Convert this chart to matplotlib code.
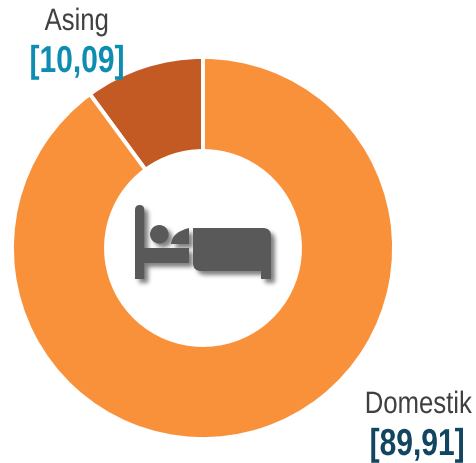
import numpy as np
import matplotlib
matplotlib.use("Agg")
import matplotlib.pyplot as plt
from matplotlib.patches import PathPatch
from matplotlib.path import Path
from matplotlib.patheffects import AbstractPathEffect
from matplotlib.transforms import Affine2D

categories = ["Asing", "Domestik"]
values = [10.09, 89.91]
value_labels = ["[10,09]", "[89,91]"]
slice_colors = ["#C45A23", "#F9913A"]
value_colors = ["#0E8DB3", "#12455F"]

FONT = "Liberation Sans"

W, H = 477, 463
fig = plt.figure(figsize=(W / 100, H / 100), dpi=100, facecolor="white")
ax = fig.add_axes([0, 0, 1, 1])

ax.pie(values, colors=slice_colors, startangle=90, counterclock=True,
       center=(203, H - 248), radius=191,
       wedgeprops=dict(width=94, edgecolor="white", linewidth=2.8), frame=True)
ax.set_xlim(0, W)
ax.set_ylim(0, H)
ax.set_aspect("equal")
ax.axis("off")


def Y(y):
    return H - y


blanket = Path(
    [(193, Y(228)), (263, Y(228)), (271, Y(228)), (271, Y(236)), (271, Y(279)),
     (261, Y(279)), (261, Y(271)), (201, Y(271)), (193, Y(271)), (193, Y(263)),
     (193, Y(228))],
    [Path.MOVETO, Path.LINETO, Path.CURVE3, Path.CURVE3, Path.LINETO,
     Path.LINETO, Path.LINETO, Path.LINETO, Path.CURVE3, Path.CURVE3,
     Path.CLOSEPOLY])
pillow = Path(
    [(189, Y(228)), (189, Y(244)), (171, Y(244)), (172, Y(232)), (189, Y(228))],
    [Path.MOVETO, Path.LINETO, Path.LINETO, Path.CURVE3, Path.CURVE3])
post = Path(
    [(135, Y(210)), (135, Y(205)), (139.7, Y(205)), (144.3, Y(205)), (144.3, Y(210)),
     (144.3, Y(279)), (135, Y(279)), (135, Y(210))],
    [Path.MOVETO, Path.CURVE3, Path.CURVE3, Path.CURVE3, Path.CURVE3,
     Path.LINETO, Path.LINETO, Path.CLOSEPOLY])
mattress = Path(
    [(144, Y(248)), (189, Y(248)), (189, Y(263)), (144, Y(263)), (144, Y(248))],
    [Path.MOVETO, Path.LINETO, Path.LINETO, Path.LINETO, Path.CLOSEPOLY])
head = Path.circle((159.3, Y(234.3)), 9.3)
bed = Path.make_compound_path(blanket, pillow, post, mattress, head)


def soft_shadow(sigma, dx, dy, opacity):
    radius = int(3 * sigma) + 1
    xs = np.arange(-radius, radius + 1)
    kernel = np.exp(-xs ** 2 / (2 * sigma ** 2))
    kernel /= kernel.sum()

    def apply(im, dpi):
        pad = radius + 2
        a = np.pad(im[:, :, 3], pad)
        a = np.apply_along_axis(np.convolve, 0, a, kernel, mode="same")
        a = np.apply_along_axis(np.convolve, 1, a, kernel, mode="same")
        out = np.zeros(a.shape + (4,), dtype=im.dtype)
        out[:, :, 3] = a * opacity
        return out, -pad + dx, -pad + dy

    return apply


shadow = PathPatch(bed, facecolor="black", edgecolor="none", zorder=4)
shadow.set_agg_filter(soft_shadow(2.2, 4, -4, 0.5))
ax.add_patch(shadow)
ax.add_patch(PathPatch(bed, facecolor="#595959", edgecolor="none", zorder=5))


class Condense(AbstractPathEffect):
    """Narrow a text horizontally about its right-hand anchor."""

    def __init__(self, anchor_x, factor):
        super().__init__()
        self.anchor_x = anchor_x
        self.factor = factor

    def draw_path(self, renderer, gc, tpath, affine, rgbFace=None):
        squeeze = (Affine2D().translate(-self.anchor_x, 0)
                   .scale(self.factor, 1).translate(self.anchor_x, 0))
        renderer.draw_path(gc, tpath, affine + squeeze, rgbFace)


# right edge x and baseline y of each label, in picture pixels
name_pos = [(109, 30), (472, 413)]
value_pos = [(124.5, 72), (464.5, 455)]
for c, vl, vc, (nx, ny), (vx, vy) in zip(categories, value_labels, value_colors, name_pos, value_pos):
    t = ax.text(nx, Y(ny), c, family=FONT, fontsize=22.3, color="#404040",
                ha="right", va="baseline")
    t.set_path_effects([Condense(nx, 0.83)])
    t = ax.text(vx, Y(vy), vl, family=FONT, fontsize=27, fontweight="bold", color=vc,
                ha="right", va="baseline")
    t.set_path_effects([Condense(vx, 0.80)])

fig.savefig("out.png", dpi=100, facecolor="white")
